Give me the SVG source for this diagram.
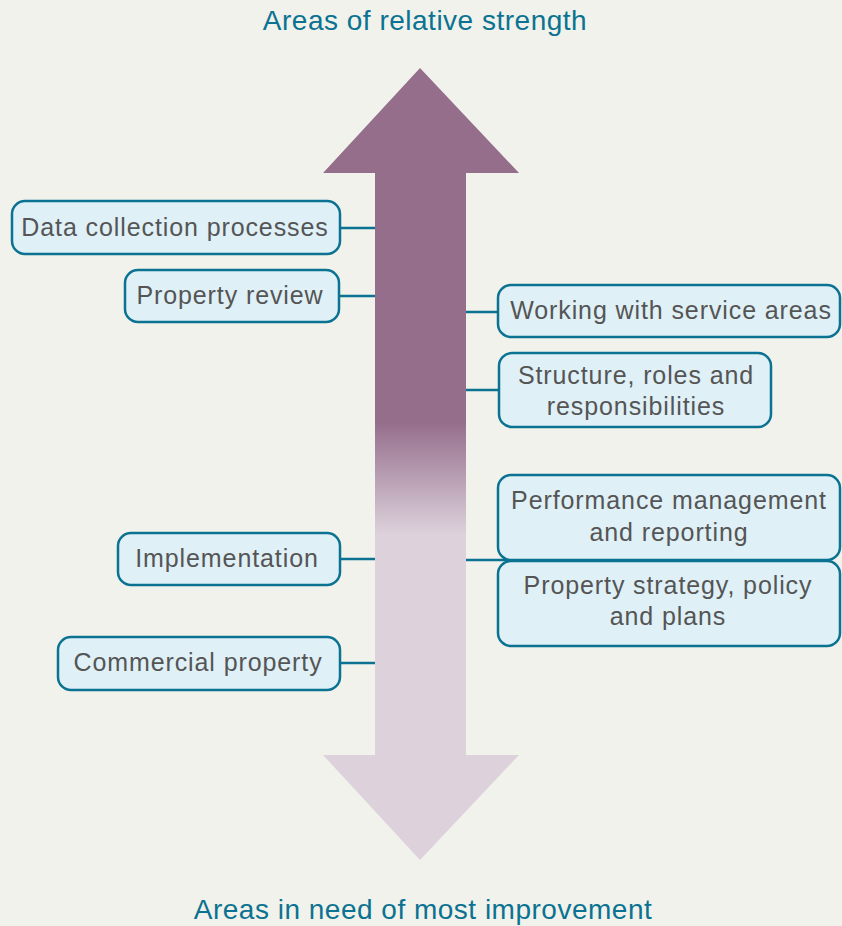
<svg xmlns="http://www.w3.org/2000/svg" width="842" height="926" viewBox="0 0 842 926">
<defs>
<linearGradient id="g" x1="0" y1="68" x2="0" y2="860" gradientUnits="userSpaceOnUse">
<stop offset="0" stop-color="#956e8c"/>
<stop offset="0.447" stop-color="#956e8c"/>
<stop offset="0.59" stop-color="#ddd2dc"/>
<stop offset="1" stop-color="#ddd2dc"/>
</linearGradient>
<style>
.box{fill:#dff0f7;stroke:#0b7391;stroke-width:2.5}
.t{font-family:"Liberation Sans",Arial,sans-serif;font-size:25px;letter-spacing:0.9px;fill:#555555;text-anchor:middle}
.h{font-family:"Liberation Sans",Arial,sans-serif;font-size:28px;letter-spacing:0.5px;fill:#0b7391;text-anchor:middle}
.c{stroke:#0b7391;stroke-width:2.5;fill:none}
</style>
</defs>
<rect width="842" height="926" fill="#f1f2ec"/>
<text class="h" x="425" y="30">Areas of relative strength</text>
<text class="h" x="423" y="919">Areas in need of most improvement</text>
<g id="arrow">
<polygon points="420,68 519,173 466,173 466,755 519,755 420,860 323,755 375,755 375,173 323,173" fill="url(#g)"/>
</g>
<g id="connectors">
<line class="c" x1="340" y1="228" x2="375" y2="228"/>
<line class="c" x1="339" y1="296" x2="375" y2="296"/>
<line class="c" x1="340" y1="559" x2="375" y2="559"/>
<line class="c" x1="340" y1="663" x2="375" y2="663"/>
<line class="c" x1="466" y1="312" x2="498" y2="312"/>
<line class="c" x1="466" y1="390" x2="499" y2="390"/>
<line class="c" x1="466" y1="560" x2="510" y2="560"/>
</g>
<g id="n1"><rect class="box" x="12" y="201" width="328" height="53" rx="13"/><text class="t" x="175" y="236">Data collection processes</text></g>
<g id="n2"><rect class="box" x="125" y="270" width="214" height="52" rx="13"/><text class="t" x="230" y="304">Property review</text></g>
<g id="n3"><rect class="box" x="498" y="285" width="342" height="52" rx="13"/><text class="t" x="671" y="319">Working with service areas</text></g>
<g id="n4"><rect class="box" x="499" y="353" width="272" height="74" rx="13"/><text class="t" x="636" y="384">Structure, roles and</text><text class="t" x="636" y="415">responsibilities</text></g>
<g id="n5"><rect class="box" x="498" y="475" width="342" height="85" rx="13"/><text class="t" x="669" y="509">Performance management</text><text class="t" x="669" y="541">and reporting</text></g>
<g id="n6"><rect class="box" x="498" y="561" width="342" height="85" rx="13"/><text class="t" x="668" y="594">Property strategy, policy</text><text class="t" x="668" y="625">and plans</text></g>
<g id="n7"><rect class="box" x="118" y="533" width="222" height="52" rx="13"/><text class="t" x="227" y="567">Implementation</text></g>
<g id="n8"><rect class="box" x="58" y="637" width="282" height="53" rx="13"/><text class="t" x="198" y="671">Commercial property</text></g>
</svg>
